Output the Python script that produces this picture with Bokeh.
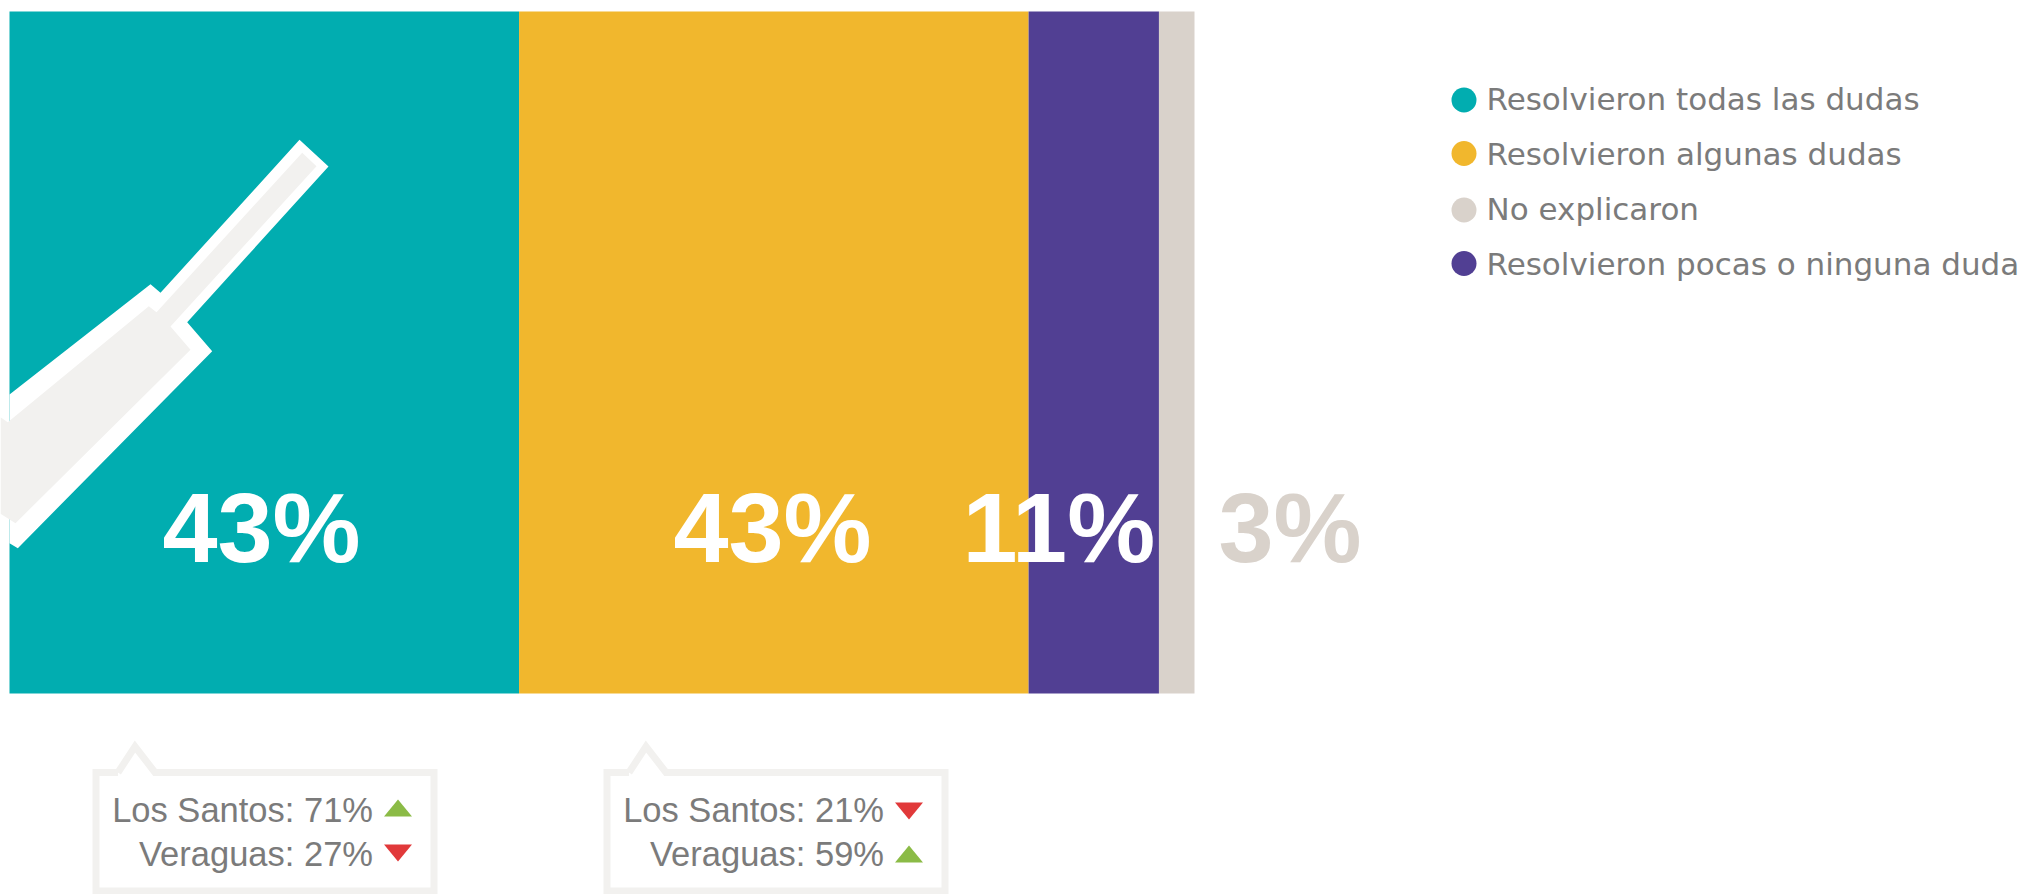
from bokeh.plotting import figure
from bokeh.models import Range1d
from bokeh.core.properties import value
from bokeh.embed import file_html
from bokeh.resources import INLINE
import numpy as np

# ---- data
segments = ["Resolvieron todas las dudas", "Resolvieron algunas dudas",
            "Resolvieron pocas o ninguna duda", "No explicaron"]
shares = [43, 43, 11, 3]
share_labels = ["43%", "43%", "11%", "3%"]
legend_order = ["Resolvieron todas las dudas", "Resolvieron algunas dudas",
                "No explicaron", "Resolvieron pocas o ninguna duda"]
regions = ["Los Santos", "Veraguas"]
todas_region = [71, 27]
todas_trend = ["up", "down"]
algunas_region = [21, 59]
algunas_trend = ["down", "up"]

# ---- styles
COLORS = {"Resolvieron todas las dudas": "#01adb0", "Resolvieron algunas dudas": "#f1b72d",
          "Resolvieron pocas o ninguna duda": "#513f93", "No explicaron": "#d9d2cb"}
GREY = "#f2f1ef"
TEXT = "#7b7b7b"
UP, DOWN = "#8bbb46", "#e1393a"
W, H = 2026, 894
BAR_L, BAR_R, BAR_T, BAR_B = 9, 1194, 11, 693
k = (BAR_R - BAR_L) / sum(shares)

p = figure(width=W, height=H, output_backend="svg", toolbar_location=None,
           x_range=Range1d(-BAR_L / k, (W - BAR_L) / k), y_range=Range1d(H, 0),
           min_border=0, outline_line_color=None, background_fill_color="white",
           border_fill_color="white")
p.extra_x_ranges["px"] = Range1d(0, W)
p.axis.visible = False
p.grid.visible = False

# stacked bar
right = np.cumsum(shares)
left = right - np.array(shares)
p.quad(left=left, right=right, top=BAR_T, bottom=BAR_B,
       fill_color=[COLORS[s] for s in segments], line_color=None)

# syringe illustration
p.patch([299, 328, 186.7, 211.7, 17.3, 9, 9, 150, 160],
        [139.3, 166, 321.7, 350.7, 547.7, 542.7, 394, 283.7, 292.3],
        x_range_name="px", fill_color="white", line_color=None)
p.patch([301.7, 316, 170, 190, 15, 0, 0, 7.3, 148.3, 156],
        [152.3, 165.7, 326, 349.3, 522.7, 513.3, 416.7, 421.7, 305.7, 311.7],
        x_range_name="px", fill_color=GREY, line_color=None)

# big share labels
label_x = [162, 673, 962, 1218]
label_col = ["white", "white", "white", COLORS["No explicaron"]]
p.text(x=label_x, y=[563 - 99 * 0.36] * 4, text=share_labels, x_range_name="px", text_color=label_col,
       text_font=value("Liberation Sans"), text_font_style="bold", text_font_size="99px",
       text_align="left", text_baseline="middle")

# legend
leg_y = [99.5, 153, 209.5, 263]
p.scatter(x=[1463.5] * 4, y=leg_y, size=25, x_range_name="px",
          fill_color=[COLORS[s] for s in legend_order], line_color=None)
p.text(x=[1486] * 4, y=[98.5, 153.5, 208.5, 263.5], text=legend_order, x_range_name="px",
       text_color=TEXT, text_font=value("DejaVu Sans"), text_font_size="31px",
       text_align="left", text_baseline="middle")


def callout(x0, vals, trends):
    x1 = x0 + 338
    top, bot = 772, 890.5
    tip = x0 + 39
    p.line([tip - 17, tip, tip + 20, x1, x1, x0, x0, tip - 17],
           [top, 746, top, top, bot, bot, top, top], x_range_name="px",
           line_color=GREY, line_width=7, line_join="miter")
    text_r = x0 + 277
    tri_c = x0 + 302
    labels = [f"{r}: {v}%" for r, v in zip(regions, vals)]
    p.text(x=[text_r] * 2, y=[809, 853], text=labels, x_range_name="px", text_color=TEXT,
           text_font=value("Liberation Sans"), text_font_size="34.5px",
           text_align="right", text_baseline="middle")
    centers = {"up": [807.5, 853.5], "down": [810.5, 852.5]}
    for i, tr in enumerate(trends):
        cy = centers[tr][i]
        d = -8.5 if tr == "up" else 8.5
        p.patch([tri_c - 14, tri_c + 14, tri_c], [cy - d, cy - d, cy + d], x_range_name="px",
                fill_color=UP if tr == "up" else DOWN, line_color=None)


callout(95.5, todas_region, todas_trend)
callout(606.5, algunas_region, algunas_trend)

open("out.html", "w").write(file_html(p, INLINE))
